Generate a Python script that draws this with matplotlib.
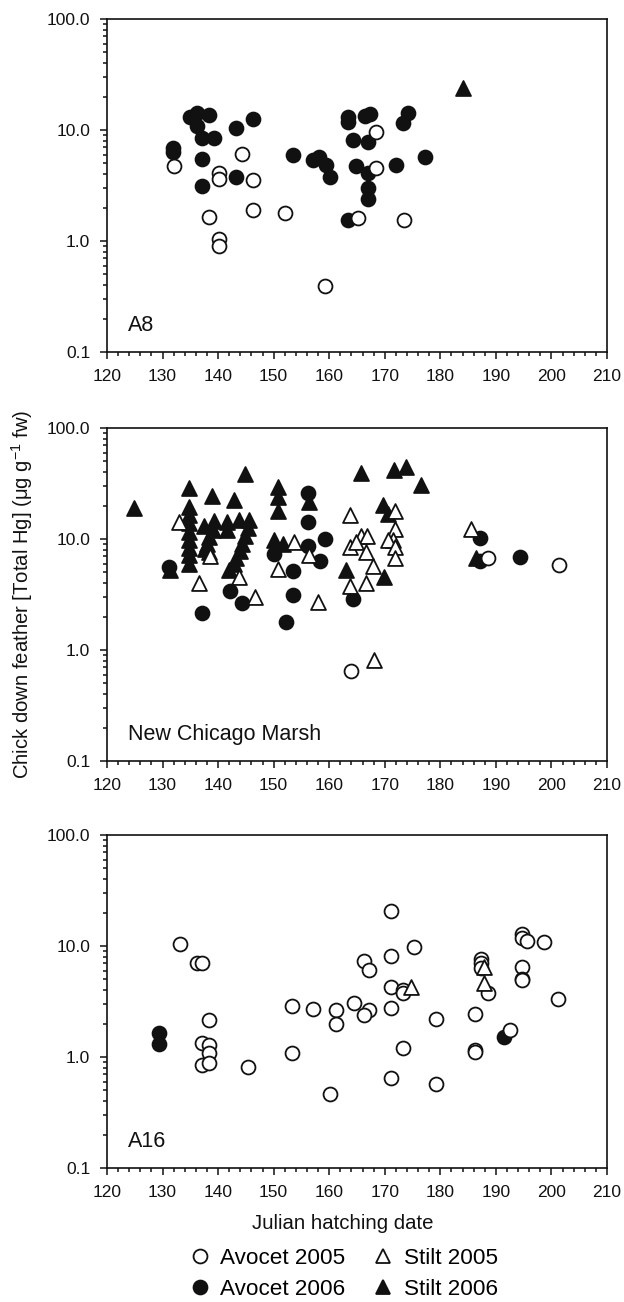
"""Hg in chick down feathers vs Julian hatching date, three sites."""
import matplotlib
matplotlib.use("Agg")
import matplotlib.pyplot as plt
from matplotlib.lines import Line2D
from matplotlib.ticker import MultipleLocator, LogLocator, FixedLocator, NullFormatter

plt.rcParams["font.family"] = ["Liberation Sans", "DejaVu Sans"]
plt.rcParams["mathtext.fontset"] = "custom"
plt.rcParams["mathtext.rm"] = "Liberation Sans"
plt.rcParams["mathtext.it"] = "Liberation Sans"

# ---- A8 ----
a8_av05_x = [132, 138.3, 140.1, 140.1, 140.1, 140.1, 144.3, 146.2, 146.2, 152.1, 159.2, 165.1, 168.5, 168.5, 173.4]
a8_av05_y = [4.7, 1.66, 4.07, 3.6, 1.04, 0.90, 6.1, 3.55, 1.9, 1.78, 0.39, 1.6, 9.6, 4.5, 1.55]
a8_av06_x = [131.9, 131.9, 135.0, 136.2, 136.2, 137.1, 137.1, 137.1, 138.3, 139.2, 143.3, 143.3,
             146.2, 153.4, 157.0, 158.2, 159.4, 160.2, 163.3, 163.3, 163.3, 164.3, 164.8, 166.4,
             167.3, 167.0, 166.9, 167.0, 167.0, 172.1, 173.3, 174.2, 177.2]
a8_av06_y = [6.9, 6.3, 13.0, 14.1, 10.9, 5.5, 3.1, 8.4, 13.6, 8.4, 10.4, 3.8,
             12.5, 6.0, 5.4, 5.7, 4.8, 3.8, 1.55, 13.2, 11.9, 8.1, 4.7, 13.4,
             14.0, 7.85, 4.07, 3.0, 2.4, 4.8, 11.5, 14.1, 5.7]
a8_st06_x = [184.0]
a8_st06_y = [23.7]

# ---- New Chicago Marsh ----
ncm_av05_x = [164.0, 188.6, 201.3]
ncm_av05_y = [0.65, 6.8, 5.8]
ncm_st05_x = [132.9, 138.6, 136.5, 143.7, 146.6, 150.7, 153.7, 156.4, 157.9, 163.8, 165.8, 166.8, 163.8,
              164.8, 166.6, 167.8, 166.6, 163.8, 171.8, 171.8, 171.5, 170.6, 171.8, 171.8, 168.0, 185.6]
ncm_st05_y = [14.3, 7.0, 4.0, 4.5, 3.0, 5.4, 9.4, 7.2, 2.7, 16.4, 10.7, 10.6, 8.5,
              9.4, 7.6, 5.7, 4.0, 3.8, 17.7, 12.3, 9.8, 9.8, 8.5, 6.7, 0.82, 12.3]
ncm_av06_x = [131.1, 137.1, 142.1, 144.3, 152.2, 153.4, 153.4, 150.1, 156.1, 156.1, 159.2, 156.1,
              158.4, 164.2, 187.1, 187.1, 194.3]
ncm_av06_y = [5.6, 2.14, 3.4, 2.67, 1.77, 5.1, 3.1, 7.4, 25.7, 14.3, 9.9, 8.7,
              6.4, 2.9, 10.3, 6.4, 6.9]
ncm_st06_x = [124.8, 134.7, 138.9, 142.8, 144.8, 150.7, 150.7, 150.7,
              134.7, 134.7, 134.7, 134.7, 134.7, 134.7, 134.7, 134.7,
              137.4, 139.2, 139.0, 138.3, 138.0, 137.6, 138.4,
              141.6, 141.6, 143.7, 145.5, 145.3, 144.9, 144.3, 143.9, 143.3, 142.8, 141.9,
              150.1, 151.6, 131.3, 156.4, 165.8, 171.7, 173.9, 176.6, 169.6, 170.5,
              163.0, 169.8, 186.5]
ncm_st06_y = [18.9, 28.6, 24.4, 22.6, 38.6, 29.3, 23.9, 17.7,
              19.4, 16.4, 13.8, 11.6, 9.8, 8.3, 7.2, 6.0,
              13.1, 14.5, 12.0, 10.5, 9.0, 8.2, 7.6,
              14.3, 12.0, 14.9, 14.9, 12.5, 10.6, 9.0, 7.8, 6.8, 5.9, 5.3,
              9.8, 9.1, 5.3, 21.6, 39.1, 41.6, 44.6, 30.6, 20.2, 16.9,
              5.3, 4.55, 6.7]

# ---- A16 ----
a16_av05_x = [133.2, 136.2, 137.1, 138.3, 137.1, 138.3, 138.3, 137.1, 138.3, 145.3, 153.3, 153.3,
              157.0, 161.2, 161.2, 160.2, 171.2, 171.2, 175.2, 166.2, 167.1, 171.2, 173.3, 173.3,
              164.4, 167.1, 166.2, 171.2, 179.3, 173.3, 171.2, 179.3, 186.3, 186.3, 186.3,
              187.4, 187.4, 187.4, 188.6, 194.7, 194.7, 195.6, 198.7, 194.7, 194.7, 194.7, 201.2, 192.5]
a16_av05_y = [10.4, 7.1, 7.1, 2.15, 1.35, 1.28, 1.08, 0.85, 0.88, 0.81, 2.88, 1.09,
              2.7, 2.65, 2.0, 0.46, 20.6, 8.1, 9.7, 7.3, 6.1, 4.25, 4.0, 3.76,
              3.05, 2.65, 2.4, 2.78, 2.2, 1.21, 0.65, 0.57, 2.46, 1.15, 1.12,
              7.6, 7.0, 6.4, 3.8, 12.9, 11.7, 11.1, 10.8, 6.5, 5.0, 4.9, 3.3, 1.75]
a16_st05_x = [174.8, 187.9, 187.9]
a16_st05_y = [4.3, 6.5, 4.6]
a16_av06_x = [129.3, 129.3, 191.5]
a16_av06_y = [1.64, 1.31, 1.5]

panel_names = ["A8", "New Chicago Marsh", "A16"]
y_ticks = [0.1, 1.0, 10.0, 100.0]

W, H = 624, 1302
fig = plt.figure(figsize=(W / 100, H / 100), dpi=100)

# axes boxes in pixels: (left, top, right, bottom)
boxes = [(107, 19, 607, 352), (107, 428, 607, 761), (107, 835, 607, 1168)]

DARK = "#111111"
styles = {
    "Avocet 2005": dict(marker="o", s=100, facecolor="white", edgecolor=DARK, linewidth=1.3, zorder=4),
    "Stilt 2005": dict(marker="^", s=115, facecolor="white", edgecolor=DARK, linewidth=1.3, zorder=4),
    "Avocet 2006": dict(marker="o", s=100, facecolor=DARK, edgecolor=DARK, linewidth=1.3, zorder=3),
    "Stilt 2006": dict(marker="^", s=115, facecolor=DARK, edgecolor=DARK, linewidth=1.3, zorder=3),
}

panel_data = [
    {"Avocet 2006": (a8_av06_x, a8_av06_y), "Stilt 2006": (a8_st06_x, a8_st06_y),
     "Avocet 2005": (a8_av05_x, a8_av05_y)},
    {"Avocet 2006": (ncm_av06_x, ncm_av06_y), "Stilt 2006": (ncm_st06_x, ncm_st06_y),
     "Stilt 2005": (ncm_st05_x, ncm_st05_y), "Avocet 2005": (ncm_av05_x, ncm_av05_y)},
    {"Avocet 2005": (a16_av05_x, a16_av05_y), "Stilt 2005": (a16_st05_x, a16_st05_y),
     "Avocet 2006": (a16_av06_x, a16_av06_y)},
]

axes = []
for (l, t, r, b), name, data in zip(boxes, panel_names, panel_data):
    ax = fig.add_axes([l / W, 1 - b / H, (r - l) / W, (b - t) / H])
    for key, (xs, ys) in data.items():
        ax.scatter(xs, ys, **styles[key])
    ax.set_yscale("log")
    ax.set_ylim(0.1, 100)
    ax.set_xlim(120, 210)
    ax.xaxis.set_major_locator(MultipleLocator(10))
    ax.xaxis.set_minor_locator(MultipleLocator(2))
    ax.yaxis.set_major_locator(FixedLocator(y_ticks))
    ax.set_yticklabels([f"{v:.1f}" for v in y_ticks])
    ax.yaxis.set_minor_locator(LogLocator(base=10, subs=range(2, 10)))
    ax.yaxis.set_minor_formatter(NullFormatter())
    ax.tick_params(which="both", direction="out", top=False, right=False,
                   labelsize=12.5, width=1.1, colors=DARK)
    ax.tick_params(which="major", length=5, pad=7)
    ax.tick_params(which="minor", length=3)
    for sp in ax.spines.values():
        sp.set_linewidth(1.2)
        sp.set_color(DARK)
    ax.text(0.042, 0.048, name, transform=ax.transAxes, fontsize=15.5,
            ha="left", va="bottom", color=DARK)
    axes.append(ax)

axes[2].set_xlabel("Julian hatching date", fontsize=14.7, color=DARK)
axes[2].xaxis.set_label_coords(0.472, -0.138)

fig.text(22 / W, 1 - 594 / H, r"Chick down feather [Total Hg] ($\mathregular{\mu}$g g$^{-1}$ fw)",
         rotation=90, ha="center", va="center", fontsize=14.6, color=DARK)

handles = []
for lab in ["Avocet 2005", "Avocet 2006", "Stilt 2005", "Stilt 2006"]:
    st = styles[lab]
    handles.append(Line2D([], [], linestyle="none", marker=st["marker"], markersize=10,
                          markerfacecolor=st["facecolor"], markeredgecolor=DARK,
                          markeredgewidth=1.3, label=lab))
fig.legend(handles=handles, loc="center", bbox_to_anchor=(343 / W, 1 - 1274 / H), ncol=2,
           frameon=False, fontsize=16.2, handletextpad=0.4, columnspacing=1.2,
           labelspacing=0.47, handlelength=1.0)

fig.savefig("out.png", dpi=100)
